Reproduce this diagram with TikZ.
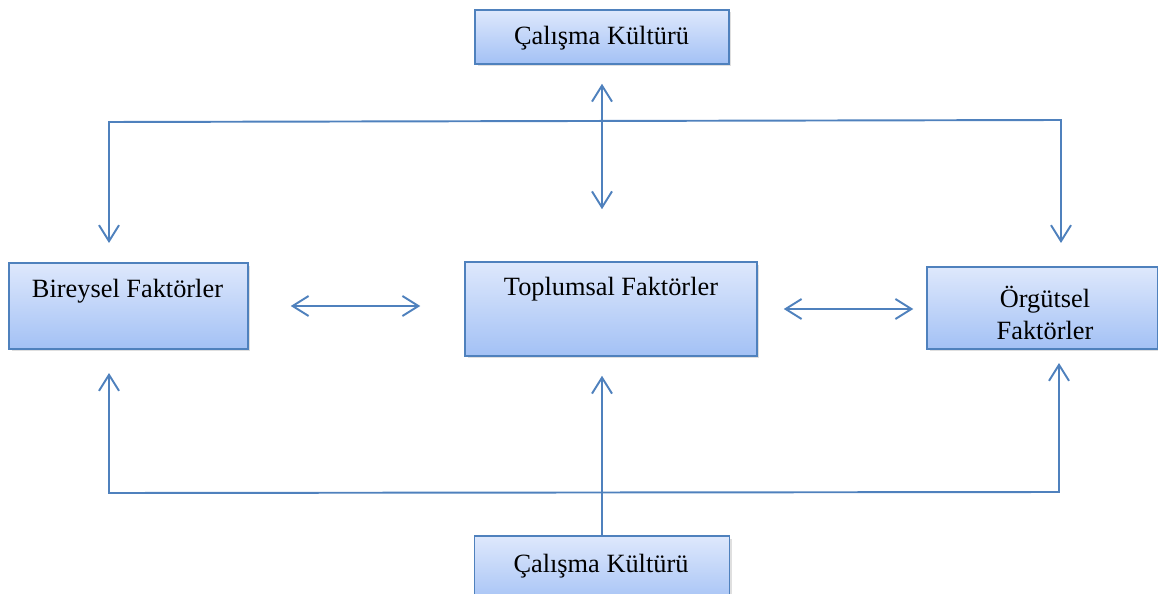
\documentclass[tikz,border=0pt]{standalone}
\usepackage{fontspec}
\setmainfont{Liberation Serif}
\usetikzlibrary{arrows.meta, shadows}
\definecolor{cizgi}{RGB}{79,129,189}
\definecolor{ustrenk}{RGB}{222,232,252}
\definecolor{altrenk}{RGB}{163,193,245}

\begin{document}
\begin{tikzpicture}[x=0.02cm, y=-0.02cm,
    kutu/.style={draw=cizgi, line width=0.9pt, top color=ustrenk, bottom color=altrenk,
        drop shadow={opacity=0.25, shadow xshift=0.05cm, shadow yshift=-0.05cm}, inner sep=0pt},
    yazi/.style={font=\fontsize{15}{18.7}\selectfont, text height=1.5ex, text depth=0.25ex,
        align=center, inner sep=0pt},
    ok/.style={draw=cizgi, line width=1.1pt, -{Straight Barb[length=0.32cm, width=0.4cm]}},
    cift/.style={draw=cizgi, line width=1.1pt,
        {Straight Barb[length=0.32cm, width=0.4cm]}-{Straight Barb[length=0.32cm, width=0.4cm]}}]
        \useasboundingbox (0,0) rectangle (1158,594);

        % Kutular
        \node[kutu, minimum width=5.08cm, minimum height=1.08cm] (ust) at (602,37) {};
        \node[yazi] (usty) at (601.5,39) {Çalışma Kültürü};
        \node[kutu, minimum width=4.78cm, minimum height=1.72cm] (bir) at (128.5,306) {};
        \node[yazi] (biry) at (127.5,292) {Bireysel Faktörler};
        \node[kutu, minimum width=5.84cm, minimum height=1.88cm] (toplum) at (611,309) {};
        \node[yazi] (toplumy) at (611,290.5) {Toplumsal Faktörler};
        \node[kutu, minimum width=4.62cm, minimum height=1.64cm] (org) at (1042.5,308) {};
        \node[yazi, text height=, text depth=] (orgy) at (1045,313) {Örgütsel\\Faktörler};
        \node[kutu, minimum width=5.1cm, minimum height=1.4cm] (alt) at (602,571) {};
        \node[yazi] (alty) at (601,567.5) {Çalışma Kültürü};

        % Çerçeve çizgileri (üst ve alt)
        \coordinate (sol1) at (109,243);
        \coordinate (sol2) at (109,122);
        \coordinate (sag2) at (1061,120);
        \coordinate (sag1) at (1061,243);
        \coordinate (sol3) at (109,373);
        \coordinate (sol4) at (109,493);
        \coordinate (sag4) at (1059,492);
        \coordinate (sag3) at (1059,363);
        \draw[cift] (sol1) -- (sol2) -- (sag2) -- (sag1);
        \draw[cift] (sol3) -- (sol4) -- (sag4) -- (sag3);

        % Dikey oklar
        \draw[cift, shorten <=0.38cm, shorten >=1.04cm] (ust.south) -- (ust.south |- toplum.north);
        \draw[ok, shorten >=0.38cm] (alt.north) -- (alt.north |- toplum.south);

        % Yatay oklar
        \draw[cift, shorten <=0.84cm, shorten >=0.88cm] (bir.east) -- (bir.east -| toplum.west);
        \draw[cift, shorten <=0.52cm, shorten >=0.26cm] (toplum.east) -- (toplum.east -| org.west);
    \end{tikzpicture}
\end{document}
